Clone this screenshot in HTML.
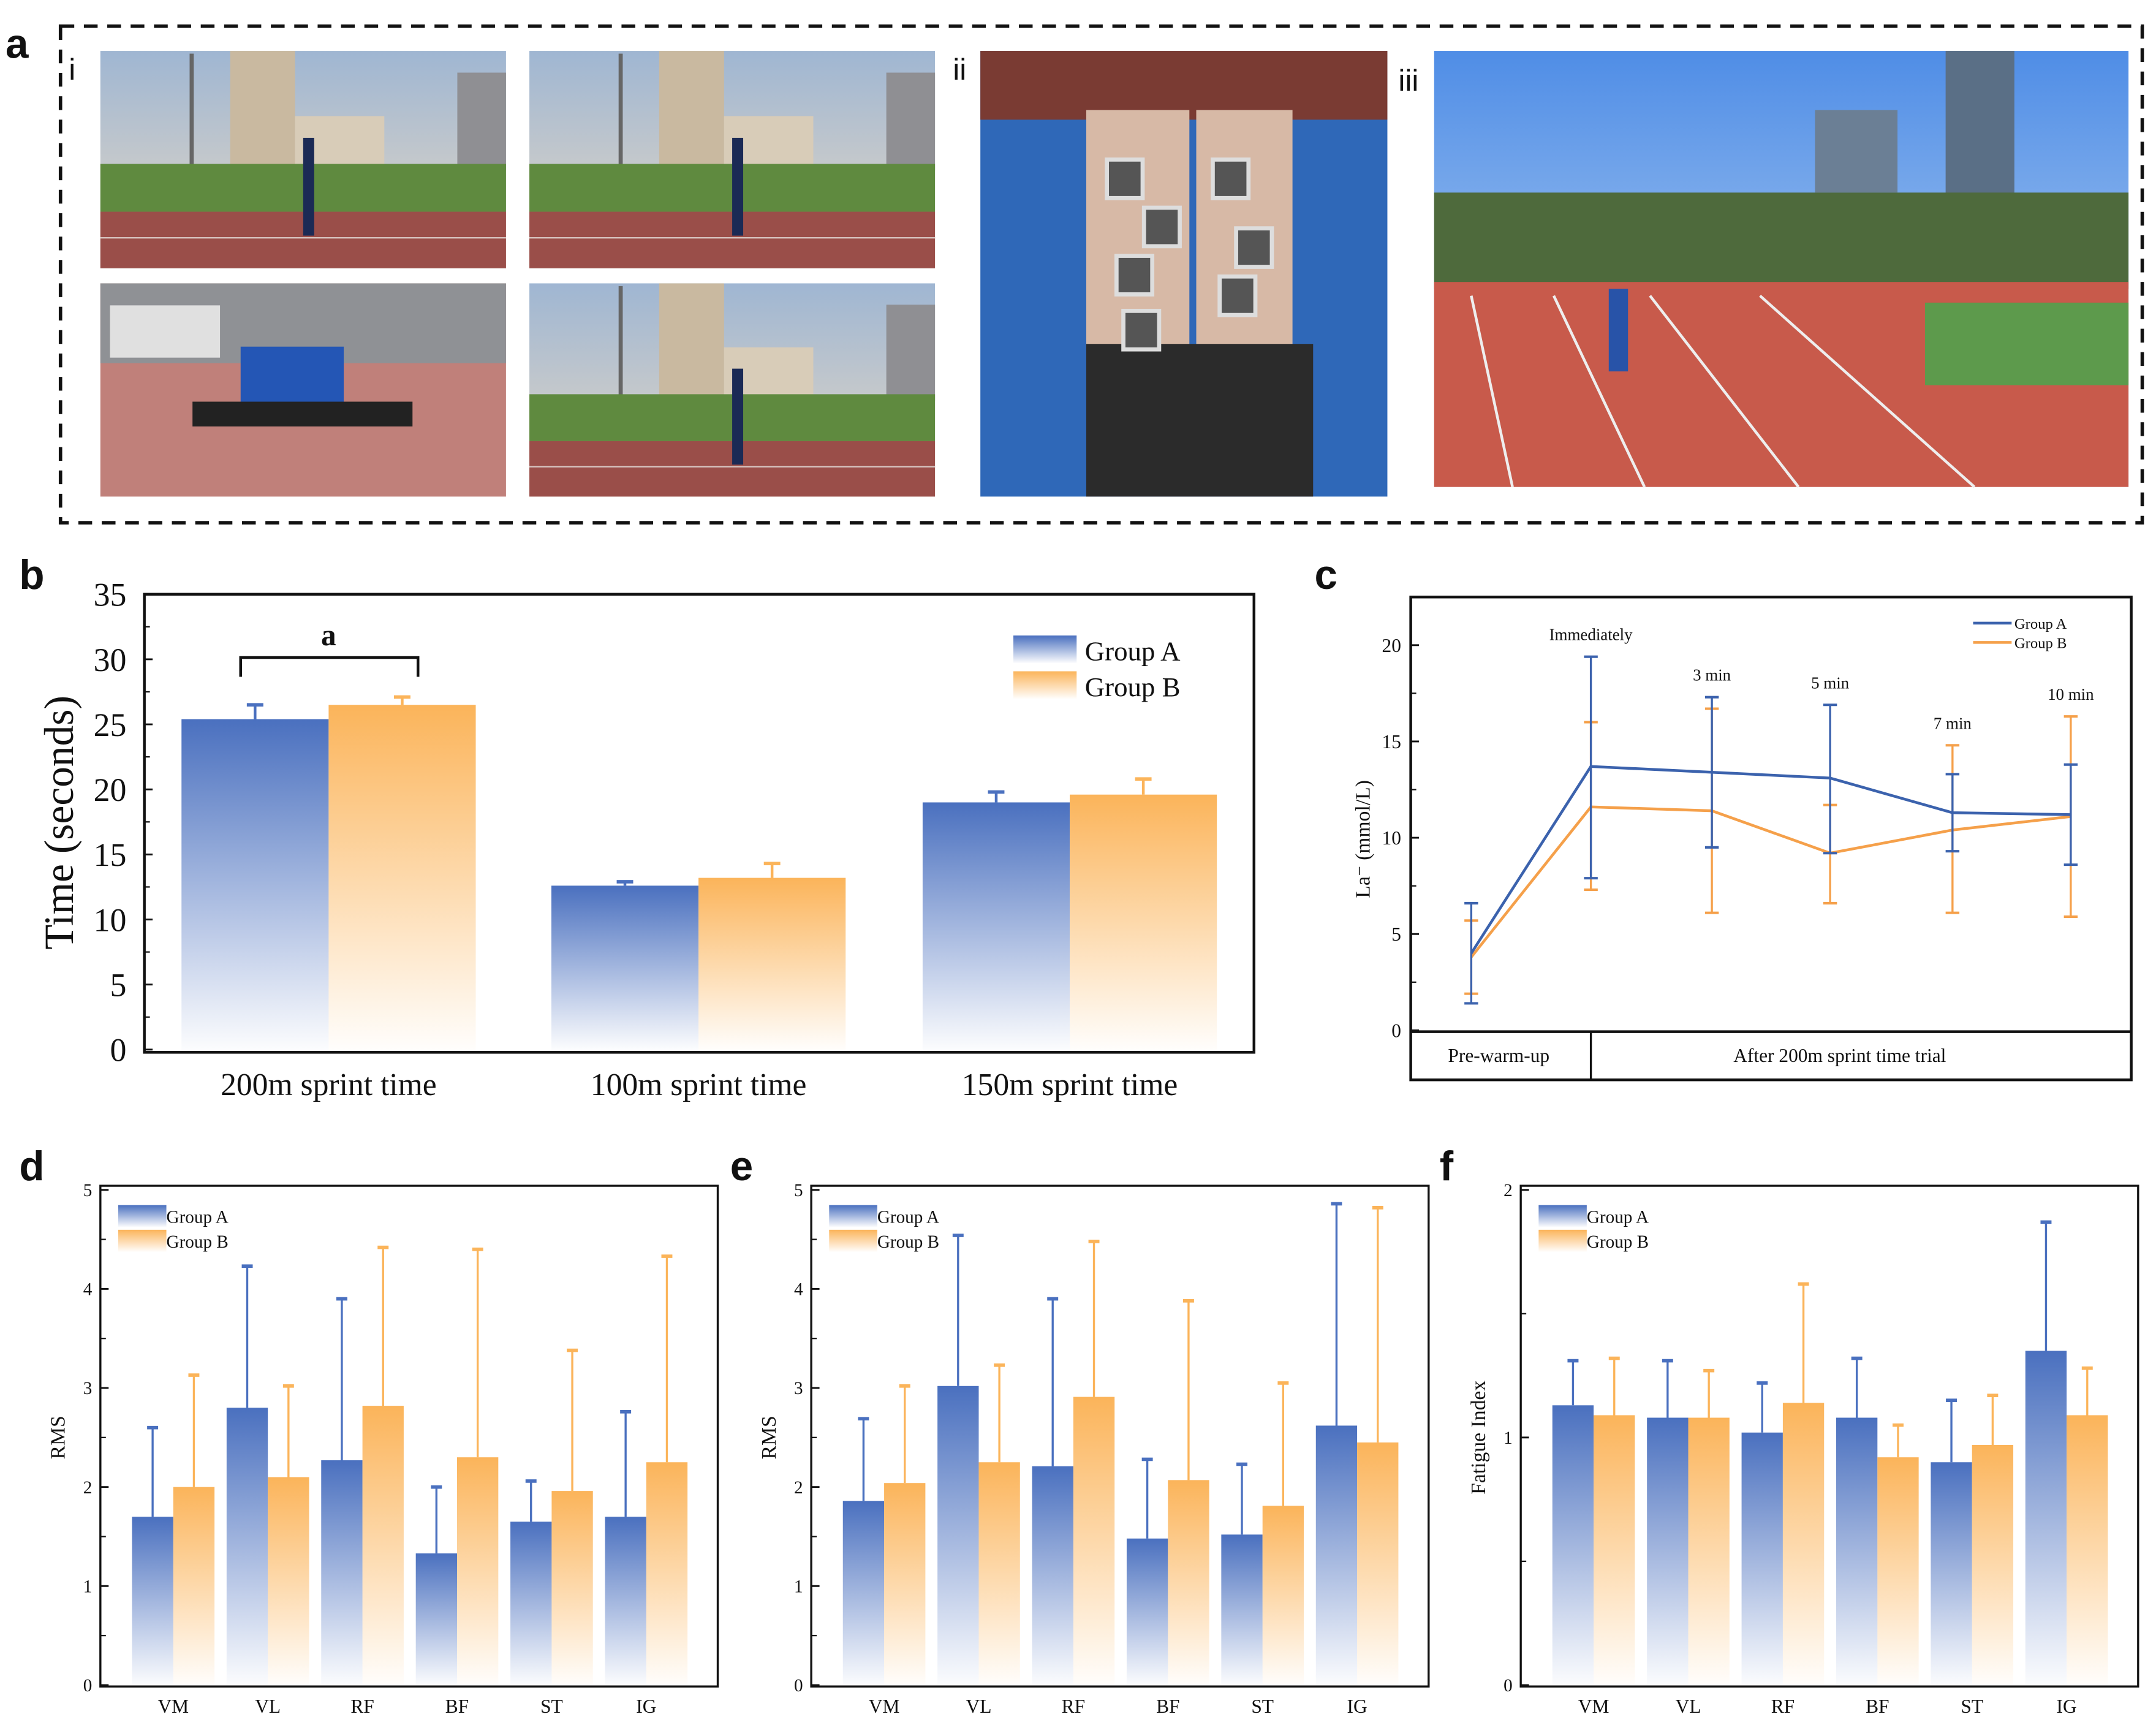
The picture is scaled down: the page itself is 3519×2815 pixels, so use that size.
<!DOCTYPE html>
<html><head><meta charset="utf-8">
<style>
html,body{margin:0;padding:0;background:#fff;}
svg{display:block;}
text{font-family:"Liberation Serif",serif;fill:#111;}
.pl{font-family:"Liberation Sans",sans-serif;font-weight:bold;font-size:30px;}
</style></head>
<body>
<svg id="fig" xmlns="http://www.w3.org/2000/svg" width="3519" height="2815" viewBox="0 0 1568 1254" preserveAspectRatio="none">
<defs>
<linearGradient id="gA" x1="0" y1="0" x2="0" y2="1"><stop offset="0" stop-color="#4a70bf"/><stop offset="1" stop-color="#4a70bf" stop-opacity="0.02"/></linearGradient>
<linearGradient id="gB" x1="0" y1="0" x2="0" y2="1"><stop offset="0" stop-color="#fbb45a"/><stop offset="1" stop-color="#fbb45a" stop-opacity="0.02"/></linearGradient>
<linearGradient id="sky" x1="0" y1="0" x2="0" y2="1"><stop offset="0" stop-color="#9fb6d2"/><stop offset="1" stop-color="#e6d9c6"/></linearGradient>
<linearGradient id="sky2" x1="0" y1="0" x2="0" y2="1"><stop offset="0" stop-color="#4f8de6"/><stop offset="1" stop-color="#c8def5"/></linearGradient>
</defs>
<g>
<text class="pl" x="4" y="42">a</text>
<rect x="44" y="19" width="1514" height="361" fill="none" stroke="#111" stroke-width="2.5" stroke-dasharray="10,7"/>
<text x="50" y="58" font-size="22" style="font-family:'Liberation Sans',sans-serif">i</text>
<text x="693" y="58" font-size="22" style="font-family:'Liberation Sans',sans-serif">ii</text>
<text x="1017" y="66" font-size="22" style="font-family:'Liberation Sans',sans-serif">iii</text>
<g id="photos"></g>
</g>
<g id="pb"></g>
<g id="pc"></g>
<g id="pd"></g>
<g id="pe"></g>
<g id="pf"></g>
</svg>
<script>
const bCats = ["200m sprint time","100m sprint time","150m sprint time"];
const bA = [25.4, 12.6, 19.0];
const bAerr = [26.5, 12.9, 19.8];
const bB = [26.5, 13.2, 19.6];
const bBerr = [27.1, 14.3, 20.8];
const bTicks = [0,5,10,15,20,25,30,35];

const cLabels = ["","Immediately","3 min","5 min","7 min","10 min"];
const cA = [4.0, 13.7, 13.4, 13.1, 11.3, 11.2];
const cAhi = [6.6, 19.4, 17.3, 16.9, 13.3, 13.8];
const cAlo = [1.4, 7.9, 9.5, 9.2, 9.3, 8.6];
const cB = [3.8, 11.6, 11.4, 9.2, 10.4, 11.1];
const cBhi = [5.7, 16.0, 16.7, 11.7, 14.8, 16.3];
const cBlo = [1.9, 7.3, 6.1, 6.6, 6.1, 5.9];
const cTicks = [0,5,10,15,20];

const mCats = ["VM","VL","RF","BF","ST","IG"];
const dA = [1.70, 2.80, 2.27, 1.33, 1.65, 1.70];
const dAerr = [2.60, 4.23, 3.90, 2.00, 2.06, 2.76];
const dB = [2.00, 2.10, 2.82, 2.30, 1.96, 2.25];
const dBerr = [3.13, 3.02, 4.42, 4.40, 3.38, 4.33];
const eA = [1.86, 3.02, 2.21, 1.48, 1.52, 2.62];
const eAerr = [2.69, 4.54, 3.90, 2.28, 2.23, 4.86];
const eB = [2.04, 2.25, 2.91, 2.07, 1.81, 2.45];
const eBerr = [3.02, 3.23, 4.48, 3.88, 3.05, 4.82];
const fA = [1.13, 1.08, 1.02, 1.08, 0.90, 1.35];
const fAerr = [1.31, 1.31, 1.22, 1.32, 1.15, 1.87];
const fB = [1.09, 1.08, 1.14, 0.92, 0.97, 1.09];
const fBerr = [1.32, 1.27, 1.62, 1.05, 1.17, 1.28];
const rmsTicks = [0,1,2,3,4,5];
const fiTicks = [0,1,2];

const NS="http://www.w3.org/2000/svg";
function mk(p,tag,a,txt){const e=document.createElementNS(NS,tag);for(const k in a)e.setAttribute(k,a[k]);if(txt!==undefined)e.textContent=txt;p.appendChild(e);return e;}

const ph=document.getElementById('photos');
function track(x,y,w,h){
  const g=mk(ph,'g',{});
  
  
  mk(g,'rect',{x:x,y:y,width:w,height:h,fill:'url(#sky)'});
  mk(g,'rect',{x:x+w*0.32,y:y,width:w*0.16,height:h*0.55,fill:'#c9b9a0'});
  mk(g,'rect',{x:x+w*0.48,y:y+h*0.3,width:w*0.22,height:h*0.25,fill:'#d8ccb8'});
  mk(g,'rect',{x:x+w*0.88,y:y+h*0.1,width:w*0.12,height:h*0.45,fill:'#8f8f93'});
  mk(g,'rect',{x:x+w*0.22,y:y+2,width:3,height:h*0.55,fill:'#666'});
  mk(g,'rect',{x:x,y:y+h*0.52,width:w,height:h*0.22,fill:'#5f8a3f'});
  mk(g,'rect',{x:x,y:y+h*0.74,width:w,height:h*0.26,fill:'#9a4e49'});
  mk(g,'line',{x1:x,y1:y+h*0.86,x2:x+w,y2:y+h*0.86,stroke:'#d8c6c2','stroke-width':1});
  mk(g,'rect',{x:x+w*0.5,y:y+h*0.4,width:8,height:h*0.45,fill:'#1b2a55'});
  return g;
}
track(73,37,295,158);track(385,37,295,158);track(385,206,295,155);
(function(){const g=mk(ph,'g',{});


mk(g,'rect',{x:73,y:206,width:295,height:155,fill:'#c0807a'});
mk(g,'rect',{x:73,y:206,width:295,height:58,fill:'#8f9195'});
mk(g,'rect',{x:80,y:222,width:80,height:38,fill:'#e0e0e0'});
mk(g,'rect',{x:175,y:252,width:75,height:42,fill:'#2456b5'});
mk(g,'rect',{x:140,y:292,width:160,height:18,fill:'#222'});})();
(function(){const g=mk(ph,'g',{});


mk(g,'rect',{x:713,y:37,width:296,height:324,fill:'#2f68b8'});
mk(g,'rect',{x:713,y:37,width:296,height:50,fill:'#7a3b33'});
mk(g,'rect',{x:790,y:80,width:75,height:180,fill:'#d7b9a6'});
mk(g,'rect',{x:870,y:80,width:70,height:180,fill:'#d7b9a6'});
mk(g,'rect',{x:790,y:250,width:165,height:111,fill:'#2b2b2b'});
for(const [cx,cy] of [[818,130],[845,165],[825,200],[830,240],[895,130],[912,180],[900,215]])mk(g,'rect',{x:cx-13,y:cy-14,width:26,height:28,fill:'#555',stroke:'#ddd','stroke-width':3});})();
(function(){const g=mk(ph,'g',{});


mk(g,'rect',{x:1043,y:37,width:505,height:317,fill:'url(#sky2)'});
mk(g,'rect',{x:1415,y:37,width:50,height:110,fill:'#5a6f86'});
mk(g,'rect',{x:1320,y:80,width:60,height:60,fill:'#6b7f95'});
mk(g,'rect',{x:1043,y:140,width:505,height:70,fill:'#4e6a3c'});
mk(g,'rect',{x:1043,y:205,width:505,height:149,fill:'#c85a4b'});
mk(g,'rect',{x:1400,y:220,width:148,height:60,fill:'#5d9a4c'});
for(const dx of [0,60,130,210]) mk(g,'line',{x1:1070+dx,y1:215,x2:1100+dx*1.6,y2:354,stroke:'#eee','stroke-width':2});
mk(g,'rect',{x:1170,y:210,width:14,height:60,fill:'#2853a8'});})();

function axisY(g,x0,x1,y0,ppu,ticks,fs,labx,minor){
  for(const t of ticks){const y=y0-t*ppu;
    mk(g,'line',{x1:x0,y1:y,x2:x0+6,y2:y,stroke:'#111','stroke-width':1.3});
    const tl=mk(g,'text',{x:labx,y:y+fs*0.35,'font-size':fs,'text-anchor':'end'},String(t));
    
    
  }
  if(minor){for(let i=0;i<ticks.length-1;i++){const y=y0-(ticks[i]+ticks[i+1])/2*ppu;mk(g,'line',{x1:x0,y1:y,x2:x0+4,y2:y,stroke:'#111','stroke-width':1});}}
}
function errBar(g,x,yTop,yBase,col,cap,w){
  mk(g,'line',{x1:x,y1:yTop,x2:x,y2:yBase,stroke:col,'stroke-width':w||2});
  mk(g,'line',{x1:x-cap,y1:yTop,x2:x+cap,y2:yTop,stroke:col,'stroke-width':2.5});
}

(function(){
const g=document.getElementById('pb');
mk(g,'text',{class:'pl',x:14,y:428},'b');
const L=105,R=912,T=432,B=765,y0=763,ppu=(763-432)/35;
const centers=[239,508,778],bw=107;
for(let i=0;i<bCats.length;i++){
  const c=centers[i];
  const ra=mk(g,'rect',{x:c-bw,y:y0-bA[i]*ppu,width:bw,height:bA[i]*ppu,fill:'url(#gA)'});
  
  
  const rb=mk(g,'rect',{x:c,y:y0-bB[i]*ppu,width:bw,height:bB[i]*ppu,fill:'url(#gB)'});
  
  
  errBar(g,c-bw/2,y0-bAerr[i]*ppu,y0-bA[i]*ppu,'#4a70bf',6);
  errBar(g,c+bw/2,y0-bBerr[i]*ppu,y0-bB[i]*ppu,'#fbb45a',6);
  const tl=mk(g,'text',{x:c,y:796,'font-size':23,'text-anchor':'middle'},bCats[i]);
  
  
}
mk(g,'rect',{x:L,y:T,width:R-L,height:B-T,fill:'none',stroke:'#111','stroke-width':2});
axisY(g,L,R,y0,ppu,bTicks,24,92,true);
const yt=mk(g,'text',{x:0,y:0,'font-size':30,'text-anchor':'middle',transform:'translate(53,598) rotate(-90)'},'Time (seconds)');


mk(g,'path',{d:'M175,492 L175,478 L304,478 L304,492',fill:'none',stroke:'#111','stroke-width':2});
mk(g,'text',{x:239,y:469,'font-size':22,'font-weight':'bold','text-anchor':'middle'},'a');
const lg=mk(g,'g',{});


mk(lg,'rect',{x:737,y:462,width:46,height:20,fill:'url(#gA)'});
mk(lg,'text',{x:789,y:480,'font-size':20},'Group A');
mk(lg,'rect',{x:737,y:488,width:46,height:20,fill:'url(#gB)'});
mk(lg,'text',{x:789,y:506,'font-size':20},'Group B');
})();

(function(){
const g=document.getElementById('pc');
mk(g,'text',{class:'pl',x:956,y:428},'c');
const L=1026,R=1550,T=434,B=785,y0=749,ppu=(749-469)/20;
const xs=[1070,1157,1245,1331,1420,1506];
mk(g,'rect',{x:L,y:T,width:R-L,height:B-T,fill:'none',stroke:'#111','stroke-width':2});
mk(g,'line',{x1:L,y1:750,x2:R,y2:750,stroke:'#111','stroke-width':2});
mk(g,'line',{x1:1157,y1:750,x2:1157,y2:B,stroke:'#111','stroke-width':1.5});
mk(g,'text',{x:1090,y:772,'font-size':14,'text-anchor':'middle'},'Pre-warm-up');
mk(g,'text',{x:1338,y:772,'font-size':14,'text-anchor':'middle'},'After 200m sprint time trial');
axisY(g,L,R,y0,ppu,cTicks,14,1019,true);
const yt=mk(g,'text',{x:0,y:0,'font-size':15,'text-anchor':'middle',transform:'translate(996,610) rotate(-90)'},'La⁻ (mmol/L)');


function series(vals,hi,lo,col,name){
  for(let i=0;i<xs.length;i++){
    const x=xs[i];
    mk(g,'line',{x1:x,y1:y0-hi[i]*ppu,x2:x,y2:y0-lo[i]*ppu,stroke:col,'stroke-width':1.5});
    for(const v of [hi[i],lo[i]])mk(g,'line',{x1:x-5,y1:y0-v*ppu,x2:x+5,y2:y0-v*ppu,stroke:col,'stroke-width':1.8});
  }
  const p=mk(g,'polyline',{points:vals.map((v,i)=>xs[i]+','+(y0-v*ppu)).join(' '),fill:'none',stroke:col,'stroke-width':2});
  
  
}
series(cB,cBhi,cBlo,'#f5a04a','line-group-b');
series(cA,cAhi,cAlo,'#3b62ad','line-group-a');
for(let i=1;i<xs.length;i++){
  const top=Math.max(cAhi[i],cBhi[i]);
  mk(g,'text',{x:xs[i],y:y0-top*ppu-12,'font-size':12,'text-anchor':'middle'},cLabels[i]);
}
const lg=mk(g,'g',{});


mk(lg,'line',{x1:1435,y1:453,x2:1463,y2:453,stroke:'#3b62ad','stroke-width':2});
mk(lg,'text',{x:1465,y:457,'font-size':11},'Group A');
mk(lg,'line',{x1:1435,y1:467,x2:1463,y2:467,stroke:'#f5a04a','stroke-width':2});
mk(lg,'text',{x:1465,y:471,'font-size':11},'Group B');
})();

function barPanel(id,letter,L,A,Aerr,Bv,Berr,ticks,maxV,ytitle){
  const g=document.getElementById(id);
  mk(g,'text',{class:'pl',x:L-59,y:858},letter);
  const R=L+449,T=862,B=1226,y0=1225,ppu=(1225-865)/maxV;
  const step=68.8,c0=L+53,bw=30;
  for(let i=0;i<mCats.length;i++){
    const c=c0+i*step;
    const ra=mk(g,'rect',{x:c-bw,y:y0-A[i]*ppu,width:bw,height:A[i]*ppu,fill:'url(#gA)'});
    
    
    const rb=mk(g,'rect',{x:c,y:y0-Bv[i]*ppu,width:bw,height:Bv[i]*ppu,fill:'url(#gB)'});
    
    
    errBar(g,c-bw/2,y0-Aerr[i]*ppu,y0-A[i]*ppu,'#4a70bf',4,1.5);
    errBar(g,c+bw/2,y0-Berr[i]*ppu,y0-Bv[i]*ppu,'#fbb45a',4,1.5);
    const tl=mk(g,'text',{x:c,y:1245,'font-size':14,'text-anchor':'middle'},mCats[i]);
    
    
  }
  mk(g,'rect',{x:L,y:T,width:R-L,height:B-T,fill:'none',stroke:'#111','stroke-width':1.5});
  axisY(g,L,R,y0,ppu,ticks,13,L-6,true);
  const yt=mk(g,'text',{x:0,y:0,'font-size':15,'text-anchor':'middle',transform:'translate('+(L-26)+',1045) rotate(-90)'},ytitle);
  
  
  const lg=mk(g,'g',{});
  
  
  mk(lg,'rect',{x:L+13,y:876,width:35,height:16,fill:'url(#gA)'});
  mk(lg,'text',{x:L+48,y:889,'font-size':13},'Group A');
  mk(lg,'rect',{x:L+13,y:894,width:35,height:16,fill:'url(#gB)'});
  mk(lg,'text',{x:L+48,y:907,'font-size':13},'Group B');
}
barPanel('pd','d',73,dA,dAerr,dB,dBerr,rmsTicks,5,'RMS');
barPanel('pe','e',590,eA,eAerr,eB,eBerr,rmsTicks,5,'RMS');
barPanel('pf','f',1106,fA,fAerr,fB,fBerr,fiTicks,2,'Fatigue Index');
</script>
</body></html>
